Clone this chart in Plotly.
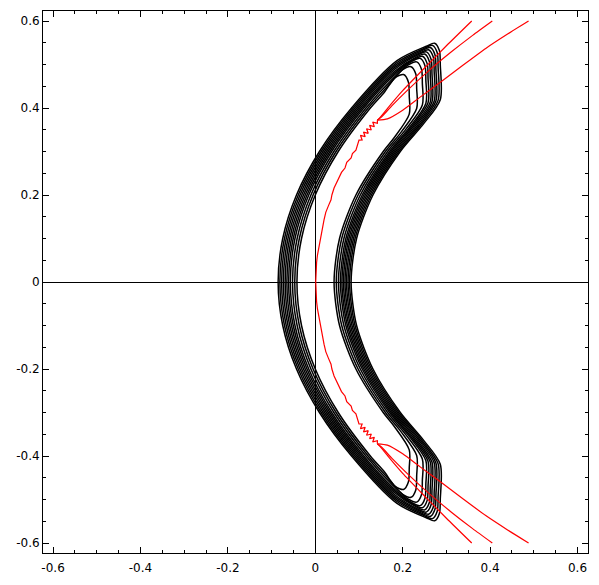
import plotly.graph_objects as go

# ---- axis ticks ----
TICK_VALS = [-0.6, -0.4, -0.2, 0.0, 0.2, 0.4, 0.6]
TICK_TEXT = ["-0.6", "-0.4", "-0.2", "0", "0.2", "0.4", "0.6"]

# ---- black contour curves (upper half, y >= 0; the figure is mirror-symmetric in y) ----
BLACK_X = [
    [-0.085, -0.0745, -0.043, 0.0095, 0.083, 0.187, 0.254, 0.273, 0.284, 0.286, 0.286, 0.248, 0.1945, 0.132, 0.0945, 0.082],
    [-0.081, -0.0705, -0.039, 0.0135, 0.087, 0.186, 0.249, 0.268, 0.279, 0.281, 0.281, 0.243, 0.191, 0.1285, 0.091, 0.0785],
    [-0.077, -0.0665, -0.035, 0.0175, 0.091, 0.1845, 0.244, 0.263, 0.274, 0.276, 0.276, 0.238, 0.1875, 0.125, 0.0875, 0.075],
    [-0.073, -0.0625, -0.031, 0.0215, 0.095, 0.183, 0.240, 0.259, 0.270, 0.272, 0.272, 0.234, 0.184, 0.1215, 0.084, 0.0715],
    [-0.069, -0.0585, -0.027, 0.0255, 0.099, 0.182, 0.235, 0.254, 0.265, 0.267, 0.267, 0.229, 0.1805, 0.118, 0.0805, 0.068],
    [-0.065, -0.0545, -0.023, 0.0295, 0.103, 0.181, 0.231, 0.250, 0.261, 0.263, 0.263, 0.225, 0.177, 0.1145, 0.077, 0.0645],
    [-0.061, -0.0505, -0.019, 0.0335, 0.107, 0.180, 0.226, 0.245, 0.256, 0.258, 0.258, 0.220, 0.1735, 0.111, 0.0735, 0.061],
    [-0.057, -0.0465, -0.015, 0.0375, 0.111, 0.179, 0.221, 0.240, 0.251, 0.253, 0.253, 0.2155, 0.170, 0.1075, 0.070, 0.0575],
    [-0.052, -0.0415, -0.010, 0.0425, 0.116, 0.176, 0.213, 0.232, 0.243, 0.245, 0.245, 0.208, 0.1655, 0.103, 0.0655, 0.053],
    [-0.047, -0.0365, -0.005, 0.0475, 0.121, 0.170, 0.200, 0.219, 0.230, 0.232, 0.232, 0.196, 0.1605, 0.098, 0.0605, 0.048],
    [-0.042, -0.0315, 0.000, 0.0525, 0.126, 0.1585, 0.183, 0.202, 0.213, 0.215, 0.215, 0.180, 0.1555, 0.093, 0.0555, 0.043],
]
BLACK_Y = [
    [0.0, 0.1, 0.2, 0.3, 0.4, 0.509, 0.542, 0.549, 0.532, 0.499, 0.419, 0.364, 0.3, 0.2, 0.1, 0.0],
    [0.0, 0.1, 0.2, 0.3, 0.4, 0.504, 0.537, 0.544, 0.527, 0.494, 0.4175, 0.3625, 0.3, 0.2, 0.1, 0.0],
    [0.0, 0.1, 0.2, 0.3, 0.4, 0.499, 0.532, 0.539, 0.522, 0.489, 0.416, 0.361, 0.3, 0.2, 0.1, 0.0],
    [0.0, 0.1, 0.2, 0.3, 0.4, 0.494, 0.527, 0.534, 0.517, 0.484, 0.4155, 0.3605, 0.3, 0.2, 0.1, 0.0],
    [0.0, 0.1, 0.2, 0.3, 0.4, 0.489, 0.522, 0.529, 0.512, 0.479, 0.414, 0.359, 0.3, 0.2, 0.1, 0.0],
    [0.0, 0.1, 0.2, 0.3, 0.4, 0.484, 0.517, 0.524, 0.507, 0.474, 0.4135, 0.3585, 0.3, 0.2, 0.1, 0.0],
    [0.0, 0.1, 0.2, 0.3, 0.4, 0.479, 0.512, 0.519, 0.502, 0.469, 0.412, 0.357, 0.3, 0.2, 0.1, 0.0],
    [0.0, 0.1, 0.2, 0.3, 0.4, 0.474, 0.507, 0.514, 0.497, 0.464, 0.4105, 0.3555, 0.3, 0.2, 0.1, 0.0],
    [0.0, 0.1, 0.2, 0.3, 0.4, 0.466, 0.499, 0.506, 0.489, 0.456, 0.407, 0.352, 0.3, 0.2, 0.1, 0.0],
    [0.0, 0.1, 0.2, 0.3, 0.4, 0.455, 0.488, 0.495, 0.478, 0.445, 0.399, 0.344, 0.3, 0.2, 0.1, 0.0],
    [0.0, 0.1, 0.2, 0.3, 0.4, 0.437, 0.470, 0.477, 0.460, 0.427, 0.386, 0.331, 0.3, 0.2, 0.1, 0.0],
]

# ---- red curves (upper half) ----
RED_A_X = [0.358, 0.300, 0.250, 0.200, 0.170, 0.148, 0.142]
RED_A_Y = [0.600, 0.543, 0.492, 0.440, 0.405, 0.378, 0.372]
RED_B_X = [0.405, 0.360, 0.310, 0.260, 0.210, 0.175, 0.152, 0.142]
RED_B_Y = [0.600, 0.567, 0.528, 0.486, 0.440, 0.405, 0.380, 0.372]
RED_C_X = [0.488, 0.440, 0.390, 0.340, 0.290, 0.240, 0.200, 0.165, 0.142]
RED_C_Y = [0.600, 0.570, 0.537, 0.500, 0.462, 0.425, 0.395, 0.375, 0.372]
RED_J_X = [0.142, 0.1422, 0.1313, 0.1352, 0.1243, 0.1282, 0.1173, 0.1212, 0.1103, 0.1142, 0.1033, 0.1072,
           0.100, 0.096, 0.093, 0.085, 0.082, 0.072, 0.068, 0.060, 0.055, 0.048, 0.043, 0.038, 0.036,
           0.030, 0.024, 0.020, 0.017, 0.013, 0.012, 0.008, 0.005, 0.003, 0.002, 0.001]
RED_J_Y = [0.372, 0.3648, 0.3677, 0.3571, 0.3601, 0.3494, 0.3524, 0.3418, 0.3447, 0.3341, 0.3371, 0.3264,
           0.326, 0.315, 0.303, 0.295, 0.285, 0.275, 0.262, 0.252, 0.242, 0.228, 0.216, 0.200, 0.189,
           0.175, 0.160, 0.143, 0.128, 0.110, 0.098, 0.080, 0.062, 0.045, 0.030, 0.000]

fig = go.Figure()


def close_mirror(xs, ys):
    fx = list(xs) + list(xs[-2::-1])
    fy = list(ys) + [-v for v in ys[-2::-1]]
    return fx, fy


for xs, ys in zip(BLACK_X, BLACK_Y):
    fx, fy = close_mirror(xs, ys)
    fig.add_trace(go.Scatter(x=fx, y=fy, mode="lines",
                             line=dict(color="black", width=1.5, shape="spline", smoothing=0.8),
                             hoverinfo="skip", showlegend=False))

for xs, ys in [(RED_A_X, RED_A_Y), (RED_B_X, RED_B_Y), (RED_C_X, RED_C_Y)]:
    for sgn in (1, -1):
        fig.add_trace(go.Scatter(x=xs, y=[sgn * v for v in ys], mode="lines",
                                 line=dict(color="red", width=1.2, shape="spline", smoothing=0.6),
                                 hoverinfo="skip", showlegend=False))
for sgn in (1, -1):
    fig.add_trace(go.Scatter(x=RED_J_X, y=[sgn * v for v in RED_J_Y], mode="lines",
                             line=dict(color="red", width=1.2),
                             hoverinfo="skip", showlegend=False))

axis_common = dict(
    showgrid=False, zeroline=True, zerolinecolor="black", zerolinewidth=1,
    showline=True, linecolor="black", linewidth=1, mirror="allticks",
    ticks="inside", ticklen=6, tickwidth=1, tickcolor="black",
    tickvals=TICK_VALS, ticktext=TICK_TEXT,
    minor=dict(ticks="inside", dtick=0.05, ticklen=3, tickcolor="black", tickwidth=1, showgrid=False),
    tickfont=dict(family="DejaVu Sans", size=12, color="black"),
)
fig.update_xaxes(range=[-0.623, 0.624], ticklabelstandoff=4, **axis_common)
fig.update_yaxes(range=[-0.623, 0.623], **axis_common)
fig.update_layout(
    width=599, height=585,
    margin=dict(l=43, r=10, t=10, b=30),
    plot_bgcolor="white", paper_bgcolor="white",
    font=dict(family="DejaVu Sans", size=12, color="black"),
)
fig.write_html("out.html")
